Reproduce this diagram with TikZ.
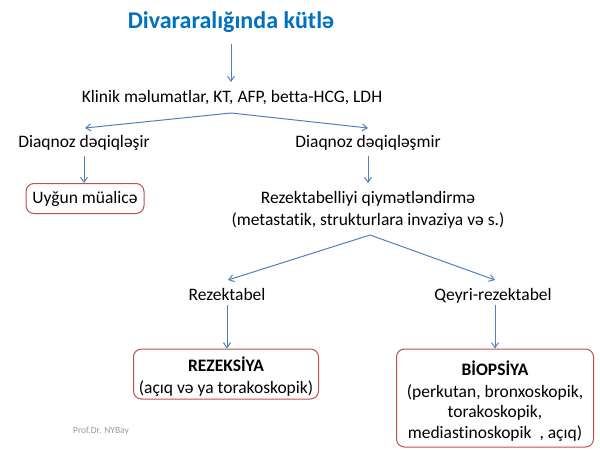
\documentclass[tikz,border=0pt]{standalone}
\usepackage{fontspec}
\setmainfont{Carlito}[Ligatures={NoCommon}]
\usetikzlibrary{arrows.meta}
\definecolor{titleblue}{HTML}{0070C0}
\definecolor{arrowblue}{HTML}{4F81BD}
\definecolor{boxred}{HTML}{C0504D}
\begin{document}
\begin{tikzpicture}[x=1pt,y=-1pt,
  lbl/.style={font=\fontsize{17.5}{21.5}\selectfont, inner sep=0pt, align=center},
  rbox/.style={draw=boxred, line width=1pt, rounded corners=8pt, fill=white, inner sep=0pt},
  conn/.style={draw=arrowblue, line width=1pt, -{Straight Barb[length=5pt,width=7pt]}}
]
\useasboundingbox (0,0) rectangle (600,450);
\node[font=\bfseries\fontsize{24}{28}\selectfont, text=titleblue, inner sep=0pt] (title) at (231,22) {Divararalığında kütlə};
\node[lbl] (klinik) at (232,98) {Klinik məlumatlar, KT, AFP, betta-HCG, LDH};
\coordinate (b1) at (231,113);
\node[lbl] (deq) at (84,143) {Diaqnoz dəqiqləşir};
\node[lbl] (deqm) at (368,143) {Diaqnoz dəqiqləşmir};
\node[rbox, minimum width=118pt, minimum height=30pt] (uygun) at (85,198.5) {};
\node[lbl] (uyguntxt) at (85,199) {Uyğun müalicə};
\node[lbl] (rez) at (368,210) {Rezektabelliyi qiymətləndirmə\\(metastatik, strukturlara invaziya və s.)};
\coordinate (b2) at (370,235);
\node[lbl, anchor=base] (rzt) at (227,300) {Rezektabel};
\node[lbl, anchor=base] (qrzt) at (493,300) {Qeyri-rezektabel};
\node[rbox, minimum width=185pt, minimum height=50pt] (rezeks) at (226,374) {};
\node[lbl] (rezekstxt) at (226,376.5) {\textbf{REZEKSİYA}\\(açıq və ya torakoskopik)};
\node[rbox, minimum width=197pt, minimum height=98pt] (biop) at (495,398) {};
\node[lbl, font=\fontsize{17.5}{20.5}\selectfont] (bioptxt) at (495,401) {\textbf{BİOPSİYA}\\[1pt](perkutan, bronxoskopik,\\torakoskopik,\\mediastinoskopik\ \ , açıq)};
\node[font=\fontsize{9.5}{11}\selectfont, text=gray!80, inner sep=0pt] (prof) at (101,431) {Prof.Dr. NYBay};
\coordinate (s1) at (231,44);
\coordinate (t1) at (231,82);
\coordinate (t2l) at (85,128);
\coordinate (t2r) at (368,128);
\coordinate (s3l) at (84,156);
\coordinate (s3r) at (368,156);
\coordinate (t3r) at (368,183);
\coordinate (s4l) at (227,305);
\coordinate (s4r) at (495,305);
\coordinate (t4l) at (228,280);
\coordinate (t4r) at (495,280);
\draw[conn] (s1) -- (t1);
\draw[conn] (b1) -- (t2l);
\draw[conn] (b1) -- (t2r);
\draw[conn] (s3l) -- (uygun.north -| s3l);
\draw[conn] (s3r) -- (t3r);
\draw[conn] (b2) -- (t4l);
\draw[conn] (b2) -- (t4r);
\draw[conn] (s4l) -- (rezeks.north -| s4l);
\draw[conn] (s4r) -- (biop.north -| s4r);
\end{tikzpicture}
\end{document}
